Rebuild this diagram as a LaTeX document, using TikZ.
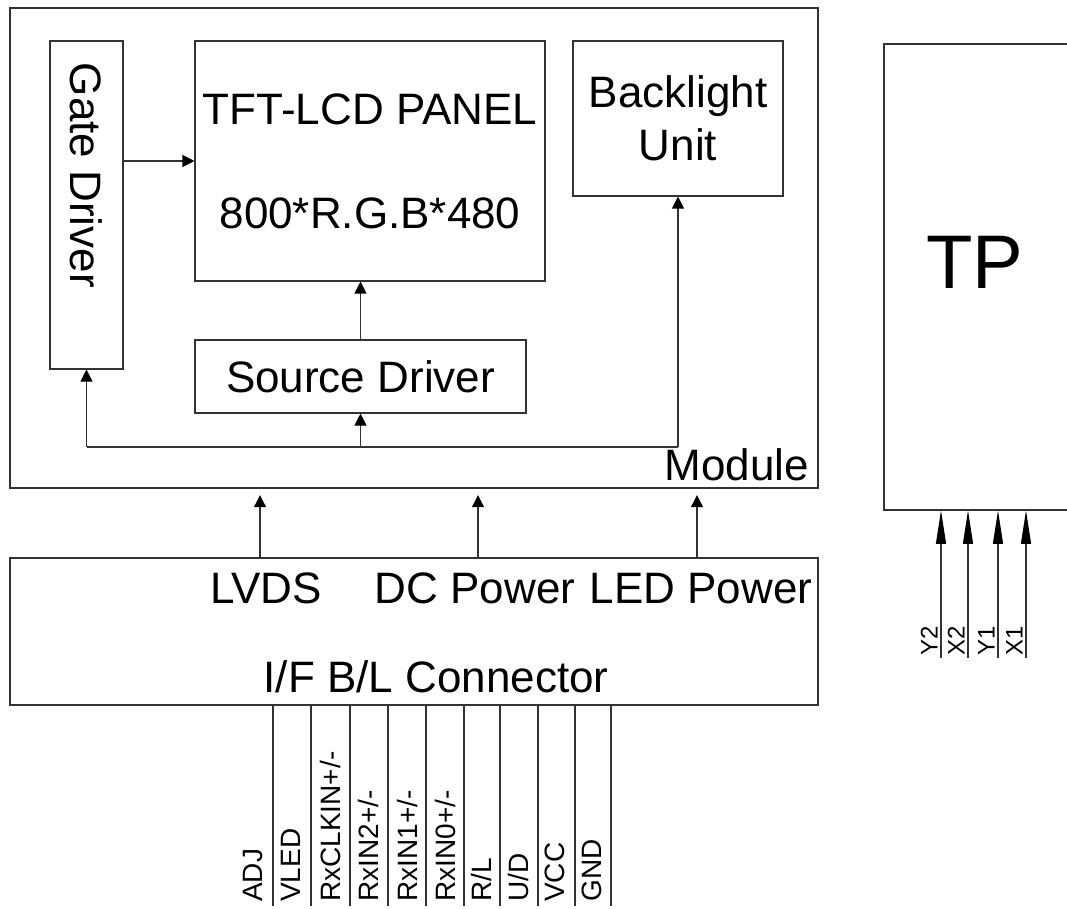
\documentclass[tikz,border=0pt]{standalone}
\usepackage{fontspec}
\setmainfont{Liberation Sans}
\usepackage{graphicx}
\usetikzlibrary{positioning,arrows.meta}
\colorlet{ln}{black!80}

\begin{document}
\begin{tikzpicture}[x=0.75pt, y=-0.75pt,
  n/.style={draw=ln, line width=0.8pt, inner sep=0pt, align=center, font=\fontsize{33}{40}\selectfont},
  lbl/.style={inner sep=0pt, font=\fontsize{33}{40}\selectfont},
  pin/.style={rotate=90, anchor=west, inner sep=0pt, font=\fontsize{21}{24}\selectfont},
  wire/.style={draw=ln, line width=0.8pt},
  e/.style={wire, -{Triangle[length=9pt, width=9pt, color=black]}},
  tpe/.style={wire, {Triangle[length=25pt, width=7.5pt, color=black]}-}]
  \useasboundingbox (0,0) rectangle (1067,909);
  % module
  \node[n, minimum width=606pt, minimum height=360pt] (mod) at (414,248) {};
  \node[n, minimum width=54.75pt, minimum height=246pt] (gate) at (86.5,205) {\rotatebox{-90}{\makebox[213pt][l]{Gate Driver}}};
  \node[n, minimum width=262.5pt, minimum height=180pt] (panel) at (370,161) {TFT-LCD PANEL\\[38pt]800*R.G.B*480};
  \node[n, minimum width=157.5pt, minimum height=116.25pt] (bl) at (678,118.5) {Backlight\\Unit};
  \node[n, minimum width=248.25pt, minimum height=54.75pt] (src) at (360.5,376.5) {Source Driver};
  \node[lbl, anchor=base east] (modlbl) at (809,480) {Module};
  \coordinate (bus) at (360.5,447);
  \draw[e] (gate.east |- panel.west) -- (panel.west);
  \draw[e] (src.north) -- (src.north |- panel.south);
  \draw[wire] (bus -| gate.south) -- (bus -| bl.south);
  \draw[e] (bus -| gate.south) -- (gate.south);
  \draw[e] (bus) -- (src.south);
  \draw[e] (bus -| bl.south) -- (bl.south);
  % connector
  \node[n, minimum width=606pt, minimum height=110.25pt] (conn) at (414,631.5) {};
  \node[lbl, anchor=base] (lvds) at (266,603) {LVDS};
  \node[lbl, anchor=base] (dcp) at (475,603) {DC Power};
  \node[lbl, anchor=base] (ledp) at (701,603) {LED Power};
  \node[lbl, anchor=base] (ifbl) at (436,692) {I/F B/L Connector};
  \foreach \x in {260,478,697}
    \draw[e, shorten >=5pt] (conn.north -| \x,0) -- (mod.south -| \x,0);
  \foreach \x in {273,311,350,388,426,464,500,538,575,611}
    \draw[wire] (conn.south -| \x,0) -- ++(0,200);
  \node[pin] (adj) at (253,902) {ADJ};
  \node[pin] (vled) at (291,902) {VLED};
  \node[pin] (rxclk) at (330,902) {RxCLKIN+/-};
  \node[pin] (rx2) at (368,902) {RxIN2+/-};
  \node[pin] (rx1) at (407,902) {RxIN1+/-};
  \node[pin] (rx0) at (445,902) {RxIN0+/-};
  \node[pin] (rl) at (481,902) {R/L};
  \node[pin] (ud) at (518,902) {U/D};
  \node[pin] (vcc) at (555,902) {VCC};
  \node[pin] (gnd) at (592,902) {GND};
  % touch panel
  \node[n, minimum width=138pt, minimum height=349.5pt] (tp) at (976,277) {};
  \node[lbl, anchor=base, font=\fontsize{57}{60}\selectfont] (tplbl) at (975,288) {TP};
  \foreach \x/\t in {941/Y2,968/X2,998/Y1,1026/X1} {
    \draw[tpe] (tp.south -| \x,0) -- ++(0,147);
    \node[pin, anchor=south west, font=\fontsize{18}{20}\selectfont] (tp\t) at (\x-3,656) {\t};
  }
\end{tikzpicture}
\end{document}
